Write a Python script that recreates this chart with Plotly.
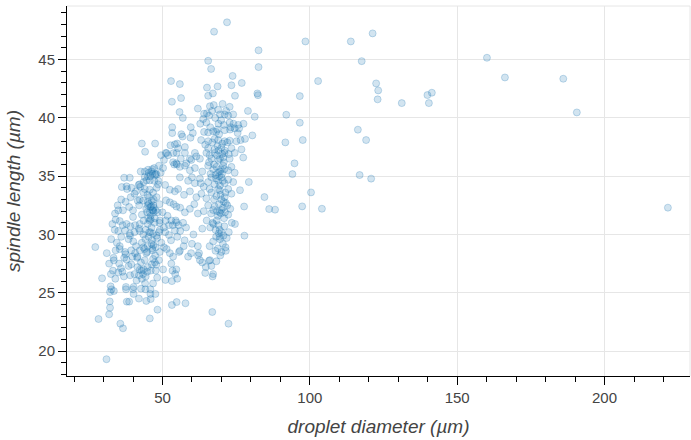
import plotly.graph_objects as go

# ---------------- data ----------------
# Left cluster of droplets (diameter, spindle length)
left_diameter = [
    37.0, 38.9, 36.2, 37.8, 41.9, 42.2, 44.0, 45.1, 46.6, 47.5, 44.6, 45.7, 47.2, 48.6, 43.6,
    45.7, 48.0, 44.9, 50.9, 52.5, 54.2, 51.2, 52.5, 53.8, 54.7,
    35.0, 36.6, 38.7, 40.0, 41.6, 43.4, 42.1, 45.0, 46.4, 44.8, 45.7, 47.0, 47.7, 48.4, 46.8, 45.9,
    34.1, 35.5, 37.8, 39.1, 40.7, 42.3, 43.6, 45.7, 47.4, 49.1, 51.1, 53.0, 54.7, 52.2,
    33.8, 35.0, 37.3, 38.9, 40.5, 42.3, 44.3, 45.5, 46.8, 48.8, 50.9, 52.2, 54.2, 49.1,
    27.2, 31.1, 34.1, 35.5, 37.3, 39.4, 40.7, 42.3, 43.9, 44.8, 46.6, 47.7, 49.1, 51.4, 52.5, 53.6, 55.6,
    33.5, 35.3, 37.8, 39.4, 41.4, 42.7, 43.6, 45.0, 46.4, 47.7, 42.3, 33.2, 35.0,
    29.5, 32.4, 32.7, 32.2, 33.5, 32.1, 32.2,
    37.6, 37.6, 37.9, 38.7, 40.2, 40.2, 40.0, 42.7, 44.2, 45.9, 45.9, 46.0, 45.7, 48.3,
    41.2, 43.0, 44.1, 46.8, 48.2,
    31.9, 28.3, 35.7, 36.6, 31.0,
    46.6, 46.2, 45.4, 46.9, 44.5, 46.0, 45.2, 47.3, 46.3, 45.9, 45.3, 46.5, 46.3, 45.0, 47.0,
    44.2, 43.5, 47.4, 46.8, 47.9, 42.9, 43.4, 44.3, 44.8, 42.0, 41.5, 36.4, 36.9, 35.9, 40.1,
    38.5, 36.0, 34.5, 37.0, 39.8, 41.0, 43.0, 48.2, 49.6, 50.5, 52.9, 53.5, 51.7, 50.0, 49.0,
    48.0, 46.8, 43.5, 42.3, 40.5, 39.2, 37.5, 36.0, 34.8, 33.9, 33.0, 32.6, 33.4, 31.9, 32.5,
    34.0, 39.0, 40.5, 48.8, 50.2, 51.0, 53.2, 47.6, 44.5, 42.0,
    43.0, 47.5, 44.1, 45.1, 46.5, 46.3, 47.2, 48.8, 50.2, 45.9, 48.0, 49.4, 42.6, 44.0, 45.3,
    47.6, 51.1, 51.9, 52.7, 54.2, 51.4, 53.7, 53.6, 54.7, 50.5, 49.5,
    38.0, 39.5, 41.0, 42.5, 44.0, 45.5, 47.0, 48.5, 40.0, 43.0, 46.0, 49.0, 36.5, 39.0, 42.0,
    45.0, 48.0, 37.5, 41.5, 44.5, 47.5, 50.5, 35.5, 38.5, 43.5, 46.5, 44.0, 46.0, 45.0, 47.0,
]
left_length = [
    34.87, 34.87, 34.07, 34.13, 34.25, 34.3, 34.93, 35.0, 35.2, 35.1, 34.64, 34.64, 34.6, 34.6, 34.5,
    33.84, 34.0, 33.4, 34.25, 33.84, 33.7, 32.93, 32.76, 32.6, 32.4,
    32.07, 32.07, 32.36, 32.07, 32.9, 32.9, 32.5, 32.5, 32.9, 31.9, 31.9, 31.9, 32.07, 31.9, 32.07, 32.36,
    31.27, 31.15, 30.9, 30.7, 30.8, 30.9, 31.2, 31.2, 31.4, 31.2, 31.2, 31.2, 31.04, 30.8,
    30.4, 30.3, 30.35, 30.07, 30.2, 30.3, 30.4, 30.2, 30.07, 30.2, 30.2, 29.95, 30.35, 30.4,
    28.92, 28.4, 28.64, 28.75, 28.5, 28.64, 28.4, 28.64, 28.75, 28.5, 28.64, 28.9, 28.5, 28.75, 28.4, 28.1, 28.5,
    27.78, 27.5, 27.85, 27.44, 28.0, 27.6, 27.0, 27.2, 27.44, 26.9, 26.98, 26.9, 26.75,
    26.24, 25.55, 25.29, 25.06, 25.15, 24.26, 23.72,
    25.5, 25.3, 24.24, 24.24, 25.5, 24.9, 25.3, 25.35, 25.3, 25.3, 24.9, 24.46, 22.8, 23.55,
    26.06, 26.2, 25.8, 25.8, 26.3,
    23.15, 22.75, 22.35, 21.95, 19.3,
    32.07, 32.4, 32.6, 32.5, 32.2, 31.6, 31.4, 31.0, 30.6, 30.2, 29.8, 29.5, 29.2, 29.0, 29.1,
    29.6, 30.0, 27.6, 27.9, 27.4, 26.9, 26.6, 26.4, 26.8, 26.5, 27.2, 26.8, 26.4, 27.1, 29.4,
    29.6, 29.8, 29.3, 28.0, 28.1, 29.0, 29.3, 29.7, 29.3, 28.9, 29.5, 30.8, 31.6, 31.9, 32.6,
    33.2, 33.6, 33.6, 33.0, 33.5, 33.2, 32.8, 33.0, 32.5, 31.8, 30.9, 29.6, 28.0, 27.5, 26.6,
    26.2, 26.5, 26.6, 27.8, 27.0, 26.1, 26.0, 24.9, 24.3, 24.5,
    37.8, 37.8, 37.1, 35.55, 35.6, 35.4, 35.7, 35.9, 35.7, 35.0, 35.15, 35.3, 35.4, 35.4, 35.3,
    35.2, 37.0, 36.8, 37.65, 37.73, 36.98, 36.98, 36.2, 36.1, 36.4, 36.8,
    33.9, 34.0, 33.7, 34.1, 33.9, 33.2, 33.0, 34.3, 31.5, 31.7, 31.3, 31.0, 30.8, 29.9, 30.5,
    30.9, 29.9, 28.3, 28.1, 28.4, 28.2, 30.6, 29.0, 27.3, 28.9, 28.8, 27.8, 26.9, 32.8, 32.3,
]

# Right cluster of droplets
right_diameter = [
    71.9, 67.5, 82.6, 82.6, 65.5, 66.5, 73.8, 55.9, 52.9, 65.1, 68.7, 73.4, 76.9, 65.5, 67.1,
    74.6, 56.3, 53.2, 82.2, 82.4, 66.1, 67.4, 70.4, 72.8, 66.8, 68.9, 79.0, 55.8,
    81.3, 56.9, 64.1, 65.1, 65.8, 69.5, 71.1, 72.3, 74.0, 59.6, 62.8, 64.9, 69.0, 70.8, 72.8,
    74.1, 75.7, 77.5, 56.4, 60.3, 64.1, 65.5, 67.2, 68.2, 68.6, 69.2, 71.1, 72.9, 74.5, 76.0,
    80.5, 59.5, 63.1, 65.5, 67.7, 68.9, 71.1, 72.8, 75.1, 76.5, 78.0, 53.3, 53.3, 56.8,
    55.0, 55.3, 57.6, 65.5, 67.7, 70.0, 71.1, 73.4, 76.8, 54.8, 56.2, 57.6, 59.3, 61.0, 62.7,
    64.9, 66.6, 67.7, 69.5, 71.1, 72.8, 74.5, 77.4, 68.5, 70.2, 69.0, 70.8, 66.0, 55.9, 58.1,
    59.8, 61.5,
    54.0, 54.9, 57.6, 59.3, 61.0, 65.5, 67.2, 68.3, 69.5, 70.6, 72.3, 73.4, 74.5, 68.8, 69.8,
    70.2, 68.0, 71.0, 63.5, 66.3,
    55.9, 58.7, 61.0, 62.7, 65.5, 66.6, 67.7, 68.9, 70.0, 71.1, 72.3, 74.0, 79.3, 69.5, 70.5,
    68.2, 69.2, 64.0, 60.0,
    55.3, 57.3, 59.3, 61.5, 63.2, 64.9, 66.6, 68.3, 69.5, 71.1, 73.4, 76.3, 70.0, 68.9, 67.5, 72.3,
    56.0, 57.6, 59.3, 62.0, 65.5, 67.7, 68.5, 69.2, 69.8, 70.5, 71.2, 72.0, 72.3, 70.0, 68.8,
    71.5, 73.0, 77.7, 66.5, 67.2, 69.4, 70.8, 64.0, 60.8,
    54.5, 55.5, 57.0, 56.0, 58.0, 55.0, 57.5, 60.5, 65.0, 66.2, 67.0, 68.0, 69.0, 70.0, 71.0,
    69.5, 68.2, 70.5, 71.8, 67.2, 66.0, 68.8, 70.0, 72.5, 73.5, 74.6, 77.8, 71.5, 69.4, 69.4,
    63.5, 62.0, 57.2, 55.9, 60.0, 58.7, 59.7, 62.4,
    62.7, 64.7, 66.1, 66.6, 68.3, 64.5, 67.0, 67.2, 55.0, 54.3, 53.4, 53.0, 54.7, 62.1, 65.8, 63.5,
    53.2, 54.8, 57.8, 66.9, 72.4,
    62.0, 63.8, 66.2, 67.9, 69.9, 71.6, 73.2, 75.5, 64.5, 66.9, 68.7, 70.3, 72.0, 65.8, 67.5,
    69.0, 70.6, 72.5, 63.0, 66.0, 69.7, 71.3, 68.4, 70.9, 67.3, 69.1, 70.7, 68.0, 69.6, 71.4,
]
right_length = [
    48.2, 47.4, 45.8, 44.36, 44.9, 44.2, 43.6, 42.9, 43.16, 42.6, 42.7, 42.8, 43.0, 41.9, 42.1,
    41.9, 41.7, 41.39, 42.1, 41.95, 41.0, 41.1, 41.2, 40.95, 40.6, 40.7, 40.6, 40.5,
    40.1, 40.0, 40.36, 40.4, 40.2, 40.3, 40.3, 40.2, 40.3, 39.2, 39.5, 39.6, 39.5, 39.4, 39.6,
    39.5, 39.4, 39.5, 38.6, 38.7, 38.8, 38.75, 38.85, 38.8, 39.0, 38.6, 38.95, 39.0, 39.1, 39.1,
    38.5, 38.3, 38.1, 38.0, 38.2, 38.1, 38.0, 38.05, 38.0, 38.1, 38.2, 39.2, 38.7, 38.4,
    37.8, 37.4, 37.5, 37.4, 37.3, 37.45, 37.2, 37.4, 37.3, 37.0, 36.5, 37.0, 36.5, 37.0, 36.5,
    37.0, 36.5, 37.0, 36.5, 37.0, 36.5, 37.0, 36.6, 36.8, 36.9, 36.4, 36.2, 36.8, 35.8, 36.1,
    36.4, 36.7,
    36.0, 36.0, 35.9, 35.5, 35.7, 35.9, 35.6, 35.8, 35.4, 35.9, 35.5, 35.8, 35.3, 35.3, 35.6,
    35.2, 35.1, 35.6, 35.4, 35.2,
    34.9, 34.6, 34.4, 34.8, 34.5, 34.9, 34.3, 34.6, 34.9, 34.4, 34.7, 34.5, 34.5, 34.2, 34.6,
    34.8, 35.0, 34.1, 34.9,
    33.9, 33.4, 33.7, 33.2, 33.5, 33.1, 33.6, 33.3, 33.8, 33.2, 33.5, 33.8, 33.0, 33.9, 33.0, 33.9,
    32.3, 31.9, 32.2, 31.8, 32.5, 32.4, 32.0, 32.6, 31.8, 32.3, 31.9, 32.5, 31.7, 32.1, 31.6,
    32.7, 32.2, 32.4, 31.8, 32.1, 31.9, 32.8, 32.0, 32.6,
    31.2, 30.8, 31.0, 30.3, 30.6, 29.8, 29.5, 30.0, 31.2, 30.6, 31.0, 30.4, 30.8, 30.2, 30.7,
    29.6, 29.8, 29.2, 29.7, 29.4, 29.0, 28.8, 28.5, 30.2, 31.0, 30.9, 29.9, 28.6, 29.8, 30.4,
    30.5, 29.0, 29.0, 28.6, 29.2, 28.1, 28.4, 28.4,
    27.8, 27.2, 27.8, 27.3, 27.7, 26.7, 26.4, 26.6, 26.2, 26.6, 26.9, 27.5, 27.0, 28.2, 27.75, 27.6,
    23.95, 24.2, 24.1, 23.35, 22.35,
    40.8, 39.9, 39.2, 40.0, 39.8, 40.6, 39.2, 38.7, 37.7, 37.9, 37.6, 37.8, 37.9, 36.2, 36.0,
    37.2, 36.6, 36.9, 34.4, 33.9, 33.4, 33.6, 31.2, 31.4, 30.9, 30.1, 29.9, 28.6, 28.2, 28.9,
]

# Large droplets (sparse)
large_diameter = [
    98.5, 113.9, 121.3, 117.6, 160.1, 102.8, 122.5, 123.2, 123.0, 131.2, 139.9, 141.4,
    140.4, 166.2, 186.0, 190.6, 96.6, 92.0, 96.6, 116.3, 119.1, 91.7, 97.6, 94.8, 94.1,
    116.9, 120.8, 100.4, 84.6, 86.2, 88.2, 97.4, 104.1, 221.5,
]
large_length = [
    46.56, 46.56, 47.25, 44.87, 45.16, 43.16, 42.96, 42.36, 41.59, 41.27, 41.96, 42.16,
    41.27, 43.47, 43.36, 40.47, 41.87, 40.27, 39.59, 38.99, 38.1, 37.9, 38.1, 36.1, 35.18,
    35.1, 34.79, 33.61, 33.21, 32.18, 32.13, 32.41, 32.21, 32.3,
]

x_title = "droplet diameter (µm)"
y_title = "spindle length (µm)"

# ---------------- figure ----------------
diameter = left_diameter + right_diameter + large_diameter
length = left_length + right_length + large_length

fig = go.Figure(
    go.Scatter(
        x=diameter,
        y=length,
        mode="markers",
        marker=dict(
            size=7,
            color="rgba(31,119,180,0.2)",
            line=dict(color="rgba(31,119,180,0.25)", width=1),
        ),
        hoverinfo="skip",
    )
)

font_family = "Liberation Sans, Helvetica, Arial, sans-serif"
axis_common = dict(
    showline=True,
    linecolor="black",
    linewidth=1,
    ticks="outside",
    ticklen=8,
    tickwidth=1,
    tickcolor="black",
    showgrid=True,
    gridcolor="#e6e6e6",
    gridwidth=1,
    zeroline=False,
    tickfont=dict(family=font_family, size=15, color="#444444"),
    automargin=False,
)

fig.update_xaxes(
    range=[17.6, 229.0],
    tick0=0,
    dtick=50,
    minor=dict(dtick=10, tick0=0, ticks="outside", ticklen=5, tickcolor="black", showgrid=False),
    title=dict(text=x_title, font=dict(family=font_family, size=19, color="#444444", style="italic"), standoff=14),
    **axis_common,
)
fig.update_yaxes(
    range=[17.86, 49.6],
    tick0=0,
    dtick=5,
    minor=dict(dtick=1, tick0=0, ticks="outside", ticklen=5, tickcolor="black", showgrid=False),
    title=dict(text=y_title, font=dict(family=font_family, size=19, color="#444444", style="italic"), standoff=12),
    **axis_common,
)

fig.add_shape(type="line", xref="paper", yref="paper", x0=0, x1=1, y0=1, y1=1,
              line=dict(color="#e6e6e6", width=1), layer="below")
fig.add_shape(type="line", xref="paper", yref="paper", x0=1, x1=1, y0=0, y1=1,
              line=dict(color="#e6e6e6", width=1), layer="below")

fig.update_layout(
    width=691,
    height=440,
    margin=dict(l=67, r=1, t=6, b=64),
    paper_bgcolor="white",
    plot_bgcolor="white",
    showlegend=False,
)

fig.write_html(
    "out.html",
    config={"displayModeBar": False},
    post_script="document.body.style.margin='0';document.body.style.overflow='hidden';",
)
